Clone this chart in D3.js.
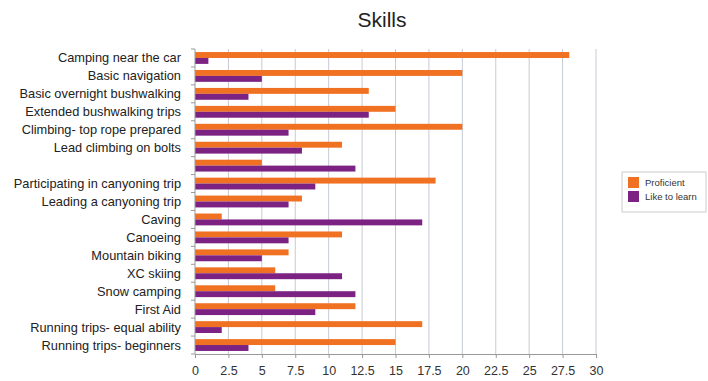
<!DOCTYPE html>
<html><head><meta charset="utf-8">
<script src="https://cdn.jsdelivr.net/npm/d3@7"></script>
<style>body{margin:0;background:#fff}svg{display:block}</style>
</head><body>
<svg id="c" width="708" height="381"></svg>
<script>
const categories = ["Camping near the car","Basic navigation","Basic overnight bushwalking","Extended bushwalking trips","Climbing- top rope prepared","Lead climbing on bolts","","Participating in canyoning trip","Leading a canyoning trip","Caving","Canoeing","Mountain biking","XC skiing","Snow camping","First Aid","Running trips- equal ability","Running trips- beginners"];
const proficient = [28,20,13,15,20,11,5,18,8,2,11,7,6,6,12,17,15];
const likeToLearn = [1,5,4,13,7,8,12,9,7,17,7,5,11,12,9,2,4];
const xTicks = [0,2.5,5,7.5,10,12.5,15,17.5,20,22.5,25,27.5,30];
const seriesNames = ["Proficient","Like to learn"];
const colors = ["#f07122","#7b2283"];

const svg = d3.select("#c");
const L = 195, R = 596, T = 49, B = 354;
const x = d3.scaleLinear().domain([0,30]).range([L,R]);
const y = d3.scaleBand().domain(d3.range(categories.length)).range([T,B]);
const bw = y.bandwidth();
const FF = "Liberation Sans, Arial, sans-serif";

svg.append("text").attr("x",382).attr("y",27).attr("text-anchor","middle")
  .attr("font-family",FF).attr("font-size",21).attr("fill","#222").text("Skills");

// gridlines
svg.append("g").selectAll("line").data(xTicks.slice(1)).join("line")
  .attr("x1",d=>x(d)).attr("x2",d=>x(d)).attr("y1",T).attr("y2",B)
  .attr("stroke","#c5cad6").attr("stroke-width",1);

// bars
const g = svg.append("g");
[proficient, likeToLearn].forEach((vals,si)=>{
  g.selectAll(".s"+si).data(vals).join("rect")
   .attr("x",x(0)).attr("y",(d,i)=>y(i)+bw*0.17+si*bw*0.33)
   .attr("width",d=>x(d)-x(0)).attr("height",bw*0.33)
   .attr("fill",colors[si]);
});

// x axis
const xa = svg.append("g").attr("transform",`translate(0,${B})`)
  .call(d3.axisBottom(x).tickValues(xTicks).tickSize(4).tickFormat(d=>String(d)));
xa.select(".domain").attr("stroke","#999");
xa.selectAll(".tick line").attr("stroke","#999");
xa.selectAll("text").attr("font-family",FF).attr("font-size",12.5).attr("fill","#333").attr("y",10).attr("dy","0.9em");

// y axis
svg.append("line").attr("x1",L).attr("x2",L).attr("y1",T).attr("y2",B).attr("stroke","#999");
svg.append("g").selectAll("line").data(d3.range(categories.length+1)).join("line")
  .attr("x1",L-4).attr("x2",L).attr("y1",d=>T+d*bw).attr("y2",d=>T+d*bw).attr("stroke","#999");
svg.append("g").selectAll("text").data(categories).join("text")
  .attr("x",181).attr("y",(d,i)=>y(i)+bw/2).attr("dy","0.35em").attr("text-anchor","end")
  .attr("font-family",FF).attr("font-size",12.8).attr("fill","#222")
  .text(d=>d);

// legend
const lg = svg.append("g");
lg.append("rect").attr("x",622).attr("y",172).attr("width",84).attr("height",40)
  .attr("fill","#fff").attr("stroke","#ccc");
seriesNames.forEach((n,i)=>{
  lg.append("rect").attr("x",628).attr("y",177+i*14).attr("width",11).attr("height",11).attr("fill",colors[i]);
  lg.append("text").attr("x",645).attr("y",183+i*14).attr("dy","0.35em")
    .attr("font-family",FF).attr("font-size",9.5).attr("fill","#333").text(n);
});
</script>
</body></html>
